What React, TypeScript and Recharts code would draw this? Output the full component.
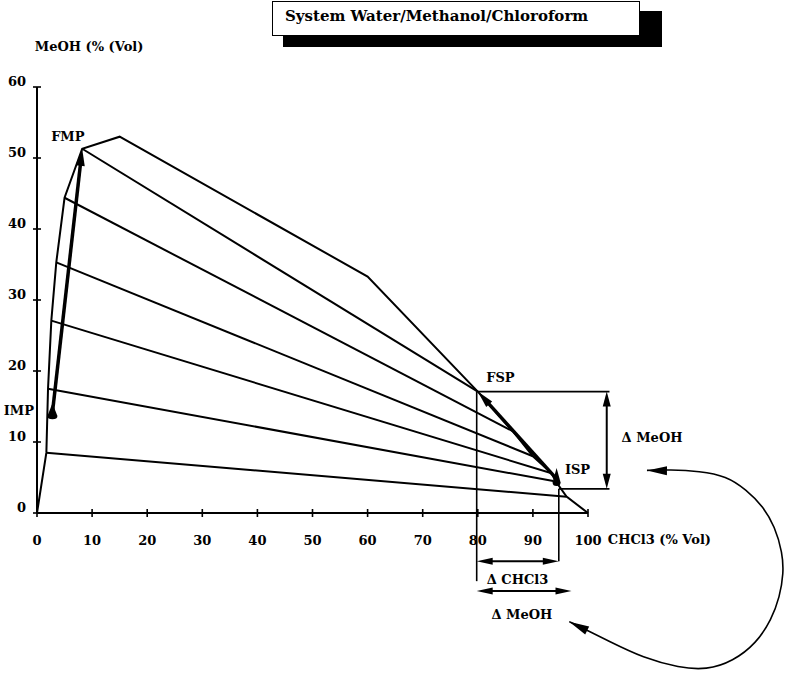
import React from "react";
import {
  ComposedChart,
  Line,
  XAxis,
  YAxis,
  ReferenceLine,
  ReferenceDot,
  ReferenceArea,
  Curve,
} from "recharts";

const FONT = "'DejaVu Serif', 'Liberation Serif', serif";

// binodal curve: CHCl3 % (x) vs MeOH % (y)
const binodalX = [0, 1.7, 2.0, 2.6, 3.5, 5.0, 8.2, 15.0, 60.0, 80.0, 86.4, 90.0, 93.4, 94.1, 96.1, 100];
const binodalY = [0, 8.5, 17.5, 27.1, 35.3, 44.4, 51.3, 53.0, 33.3, 17.1, 11.5, 8.0, 5.6, 4.5, 2.3, 0];

// tie lines, left and right ends
const tieLeftX = [1.7, 2.0, 2.6, 3.5, 5.0, 8.2];
const tieLeftY = [8.5, 17.5, 27.1, 35.3, 44.4, 51.3];
const tieRightX = [96.1, 93.7, 93.4, 90.0, 86.4, 80.0];
const tieRightY = [2.3, 4.5, 5.6, 8.0, 11.5, 17.1];

// mixing points
const IMP = { x: 2.8, y: 14.1 };
const FMP = { x: 8.2, y: 51.3 };
const ISP = { x: 94.3, y: 4.8 };
const FSP = { x: 80.0, y: 17.1 };

// delta construction
const fspLineX = 79.8;
const ispLineX = 94.7;
const ispLevel = 3.4;
const rightEdge = 103.9;
const dMeohX = 103.4;
const dChclY = -6.8;
const dMeohBottomY = -11.0;
const dMeohBottomEnd = 97.0;
const fspDrop = -9.6;

// recycling arc
const arcX = [110.7, 114.8, 120.3, 125.1, 128.7, 131.8, 133.9, 135.3, 135.5, 134.8, 133.3, 130.6, 126.3, 121.5, 116.6, 110.0, 103.9, 98.5, 96.6];
const arcY = [6.0, 6.1, 5.9, 5.2, 3.3, 0.9, -1.9, -5.6, -8.5, -11.8, -15.0, -18.3, -20.9, -22.1, -21.8, -20.4, -18.1, -16.0, -15.3];

const xTicks = [0, 10, 20, 30, 40, 50, 60, 70, 80, 90, 100];
const yTicks = [0, 10, 20, 30, 40, 50, 60];

const notes = [
  { text: "FMP", x: 5.6, y: 53.0, anchor: "middle" },
  { text: "IMP", x: -3.3, y: 14.4, anchor: "middle" },
  { text: "FSP", x: 84.1, y: 19.1, anchor: "middle" },
  { text: "ISP", x: 98.1, y: 6.1, anchor: "middle" },
  { text: "\u0394 MeOH", x: 106.1, y: 10.7, anchor: "start" },
  { text: "\u0394 CHCl3", x: 87.2, y: -9.4, anchor: "middle" },
  { text: "\u0394 MeOH", x: 88.0, y: -14.3, anchor: "middle" },
  { text: "MeOH (% (Vol)", x: -0.4, y: 65.7, anchor: "start" },
  { text: "CHCl3 (% Vol)", x: 103.6, y: -3.8, anchor: "start" },
];

const binodal = binodalX.map((x, i) => ({ x, y: binodalY[i] }));
const ties = tieLeftX.map((x, i) => [
  { x, y: tieLeftY[i] },
  { x: tieRightX[i], y: tieRightY[i] },
]);

function headPath(tx: number, ty: number, fx: number, fy: number, len: number, half: number) {
  const dx = tx - fx;
  const dy = ty - fy;
  const d = Math.hypot(dx, dy) || 1;
  const ux = dx / d;
  const uy = dy / d;
  const bx = tx - ux * len;
  const by = ty - uy * len;
  return `M${tx},${ty} L${bx - uy * half},${by + ux * half} L${bx + uy * half},${by - ux * half} Z`;
}

const arrow = (ends: "none" | "end" | "both", w: number, len = 14, half = 4) => (p: any) => {
  const { x1, y1, x2, y2 } = p;
  const d = Math.hypot(x2 - x1, y2 - y1) || 1;
  const ux = (x2 - x1) / d;
  const uy = (y2 - y1) / d;
  const e = ends !== "none" ? len * 0.6 : 0;
  const s = ends === "both" ? len * 0.6 : 0;
  return (
    <g>
      <line
        x1={x1 + ux * s}
        y1={y1 + uy * s}
        x2={x2 - ux * e}
        y2={y2 - uy * e}
        stroke="#000"
        strokeWidth={w}
      />
      {ends !== "none" && <path d={headPath(x2, y2, x1, y1, len, half)} fill="#000" />}
      {ends === "both" && <path d={headPath(x1, y1, x2, y2, len, half)} fill="#000" />}
    </g>
  );
};

const blob = (w: number, h: number) => (p: any) => {
  const { cx, cy } = p;
  const r = w / 2;
  return (
    <path
      d={`M${cx},${cy - h * 0.6} L${cx + r},${cy + h * 0.2} Q${cx + r},${cy + h * 0.4} ${cx},${cy + h * 0.4} Q${cx - r},${cy + h * 0.4} ${cx - r},${cy + h * 0.2} Z`}
      fill="#000"
    />
  );
};

const label = (text: string, anchor: string) => (p: any) => (
  <text
    x={p.cx}
    y={p.cy}
    textAnchor={anchor as any}
    dominantBaseline="central"
    fontFamily={FONT}
    fontWeight="bold"
    fontSize={13}
    fill="#000"
  >
    {text}
  </text>
);

const XTick = (p: any) => (
  <g>
    <line x1={p.x} x2={p.x} y1={p.y - 4} y2={p.y + 4} stroke="#000" strokeWidth={1.6} />
    <text x={p.x} y={p.y + 27} textAnchor="middle" dominantBaseline="central" fontFamily={FONT} fontWeight="bold" fontSize={13} fill="#000">
      {p.payload.value}
    </text>
  </g>
);

const YTick = (p: any) => (
  <g>
    <line x1={p.x - 4} x2={p.x + 4} y1={p.y} y2={p.y} stroke="#000" strokeWidth={1.6} />
    <text x={p.x - 11} y={p.y - 6} textAnchor="end" dominantBaseline="central" fontFamily={FONT} fontWeight="bold" fontSize={13} fill="#000">
      {p.payload.value}
    </text>
  </g>
);

const ax0 = Math.min(...arcX);
const ax1 = Math.max(...arcX);
const ay0 = Math.min(...arcY);
const ay1 = Math.max(...arcY);

const arcShape = (r: any) => {
  const pts = arcX.map((vx, i) => ({
    x: r.x + ((vx - ax0) / (ax1 - ax0)) * r.width,
    y: r.y + ((ay1 - arcY[i]) / (ay1 - ay0)) * r.height,
  }));
  const n = pts.length;
  return (
    <g>
      <Curve type="basis" points={pts} stroke="#000" strokeWidth={1.6} fill="none" />
      <path d={headPath(pts[0].x, pts[0].y, pts[2].x, pts[2].y, 20, 4.5)} fill="#000" />
      <path d={headPath(pts[n - 1].x, pts[n - 1].y, pts[n - 3].x, pts[n - 3].y, 20, 4.5)} fill="#000" />
    </g>
  );
};

export default function App() {
  return (
    <div style={{ position: "absolute", left: 0, top: 0, width: 785, height: 675, background: "#fff", overflow: "hidden" }}>
      <div style={{ position: "absolute", left: 283, top: 11, width: 379, height: 36, background: "#000" }} />
      <div
        style={{
          position: "absolute",
          left: 272,
          top: 1,
          width: 368,
          height: 35,
          border: "1.5px solid #000",
          background: "#fff",
          fontFamily: FONT,
          fontWeight: "bold",
          fontSize: 15,
          lineHeight: "28px",
          paddingLeft: 12,
          boxSizing: "border-box",
        }}
      >
        System Water/Methanol/Chloroform
      </div>
      <ComposedChart width={785} height={675} margin={{ top: 87, right: 197, bottom: 132, left: 7 }}>
        <XAxis
          type="number"
          dataKey="x"
          domain={[0, 100]}
          ticks={xTicks}
          interval={0}
          height={30}
          tickSize={0}
          tickMargin={0}
          tickLine={false}
          tick={<XTick />}
          axisLine={{ stroke: "#000", strokeWidth: 2 }}
        />
        <YAxis
          type="number"
          domain={[0, 60]}
          ticks={yTicks}
          interval={0}
          width={30}
          tickSize={0}
          tickMargin={0}
          tickLine={false}
          tick={<YTick />}
          axisLine={{ stroke: "#000", strokeWidth: 2 }}
        />
        <Line data={binodal} dataKey="y" type="linear" stroke="#000" strokeWidth={2} dot={false} activeDot={false} isAnimationActive={false} />
        {ties.map((t, i) => (
          <Line key={i} data={t} dataKey="y" type="linear" stroke="#000" strokeWidth={2} dot={false} activeDot={false} isAnimationActive={false} />
        ))}

        <ReferenceLine segment={[IMP, FMP]} ifOverflow="visible" shape={arrow("end", 3.5, 17, 4.5)} />
        <ReferenceLine segment={[ISP, FSP]} ifOverflow="visible" shape={arrow("end", 3.5, 17, 4)} />
        <ReferenceDot x={IMP.x} y={IMP.y} ifOverflow="visible" shape={blob(10, 16)} />
        <ReferenceDot x={ISP.x} y={ISP.y} ifOverflow="visible" shape={blob(8, 18)} />

        <ReferenceLine segment={[{ x: fspLineX, y: FSP.y }, { x: fspLineX, y: fspDrop }]} ifOverflow="visible" shape={arrow("none", 1.6)} />
        <ReferenceLine segment={[{ x: ispLineX, y: ispLevel }, { x: ispLineX, y: dChclY }]} ifOverflow="visible" shape={arrow("none", 1.6)} />
        <ReferenceLine segment={[{ x: FSP.x, y: FSP.y }, { x: rightEdge, y: FSP.y }]} ifOverflow="visible" shape={arrow("none", 1.6)} />
        <ReferenceLine segment={[{ x: ispLineX, y: ispLevel }, { x: rightEdge, y: ispLevel }]} ifOverflow="visible" shape={arrow("none", 1.6)} />
        <ReferenceLine segment={[{ x: dMeohX, y: FSP.y }, { x: dMeohX, y: ispLevel }]} ifOverflow="visible" shape={arrow("both", 2, 15, 4)} />
        <ReferenceLine segment={[{ x: fspLineX, y: dChclY }, { x: ispLineX, y: dChclY }]} ifOverflow="visible" shape={arrow("both", 2, 16, 3.5)} />
        <ReferenceLine segment={[{ x: fspLineX, y: dMeohBottomY }, { x: dMeohBottomEnd, y: dMeohBottomY }]} ifOverflow="visible" shape={arrow("both", 2, 16, 3.5)} />

        <ReferenceArea x1={ax0} x2={ax1} y1={ay0} y2={ay1} ifOverflow="visible" shape={arcShape} />

        {notes.map((n, i) => (
          <ReferenceDot key={"n" + i} x={n.x} y={n.y} ifOverflow="visible" shape={label(n.text, n.anchor)} />
        ))}
      </ComposedChart>
    </div>
  );
}
